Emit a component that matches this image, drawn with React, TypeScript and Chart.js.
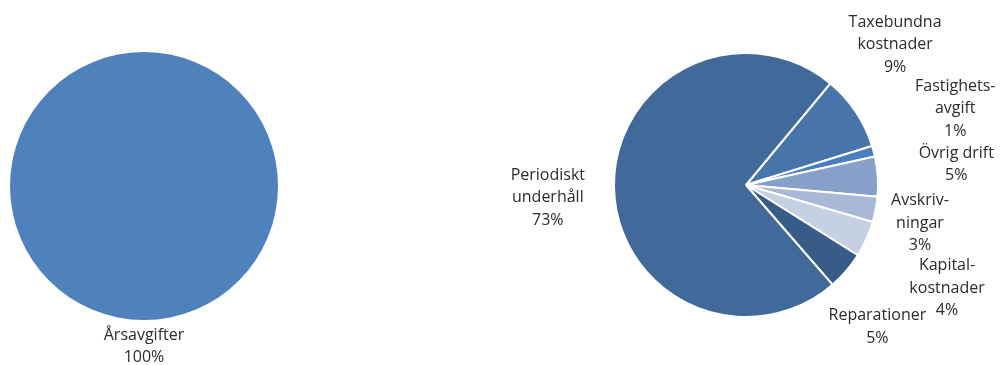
import React, { useEffect, useRef } from "react";
import { Chart, registerables } from "chart.js";

Chart.register(...registerables);

// ---- Data ----
const leftCategories = ["Årsavgifter"];
const leftValues = [100];
const leftPercentLabels = ["100%"];

const rightCategories = [
  "Taxebundna\nkostnader",
  "Fastighets-\navgift",
  "Övrig drift",
  "Avskriv-\nningar",
  "Kapital-\nkostnader",
  "Reparationer",
  "Periodiskt\nunderhåll",
];
const rightValues = [9.2, 1.3, 4.9, 3.1, 4.4, 4.7, 72.4];
const rightPercentLabels = ["9%", "1%", "5%", "3%", "4%", "5%", "73%"];

// ---- Styles / layout (kept apart from data) ----
const leftColors = ["#4F81BD"];
const rightColors = ["#4775AB", "#4A7EBF", "#86A0CA", "#A9B8D6", "#C5D0E3", "#375C88", "#416A9A"];

const leftNudges: [number, number][] = [[0, -4]];
const rightNudges: [number, number][] = [
  [-6, -44],
  [35, -32],
  [33, -10],
  [8, 6],
  [39, 32],
  [-12, 36],
  [-21, 11],
];

type LabelCfg = {
  percents: string[];
  nudges: [number, number][];
  gap: number;
  lineHeight: number;
  font: string;
  color: string;
};

function makeLabelPlugin(cfg: LabelCfg) {
  return {
    id: "sliceLabels",
    afterDatasetsDraw(chart: any) {
      const ctx = chart.ctx as CanvasRenderingContext2D;
      const meta = chart.getDatasetMeta(0);
      const cats = chart.data.labels as string[];
      ctx.save();
      ctx.font = cfg.font;
      ctx.fillStyle = cfg.color;
      ctx.textAlign = "center";
      ctx.textBaseline = "middle";
      meta.data.forEach((arc: any, i: number) => {
        const p = arc.getProps(["x", "y", "startAngle", "endAngle", "outerRadius"], true);
        const mid = (p.startAngle + p.endAngle) / 2;
        const lines = [...String(cats[i]).split("\n"), cfg.percents[i]];
        const w = Math.max(...lines.map((l) => ctx.measureText(l).width));
        const h = lines.length * cfg.lineHeight;
        const R = p.outerRadius + cfg.gap;
        const ax = p.x + R * Math.cos(mid);
        const ay = p.y + R * Math.sin(mid);
        const n = cfg.nudges[i] || [0, 0];
        const cx = ax + (Math.cos(mid) * w) / 2 + n[0];
        const cy = ay + (Math.sin(mid) * h) / 2 + n[1];
        lines.forEach((l, j) => {
          ctx.fillText(l, cx, cy - h / 2 + cfg.lineHeight * (j + 0.5));
        });
      });
      ctx.restore();
    },
  };
}

type PieProps = {
  labels: string[];
  values: number[];
  colors: string[];
  percents: string[];
  nudges: [number, number][];
  rotation: number;
  borderWidth: number;
  padding: { left: number; right: number; top: number; bottom: number };
  box: { left: number; top: number; width: number; height: number };
};

function PieChart(props: PieProps) {
  const ref = useRef<HTMLCanvasElement | null>(null);
  useEffect(() => {
    if (!ref.current) return;
    const chart = new Chart(ref.current, {
      type: "pie",
      data: {
        labels: props.labels,
        datasets: [
          {
            data: props.values,
            backgroundColor: props.colors,
            borderColor: "#FFFFFF",
            borderWidth: props.borderWidth,
          },
        ],
      },
      options: {
        animation: false,
        responsive: true,
        maintainAspectRatio: false,
        rotation: props.rotation,
        layout: { padding: props.padding },
        plugins: {
          legend: { display: false },
          tooltip: { enabled: false },
        },
      },
      plugins: [
        makeLabelPlugin({
          percents: props.percents,
          nudges: props.nudges,
          gap: 8,
          lineHeight: 22.5,
          font: '16px "Open Sans", sans-serif',
          color: "#2B2B2B",
        }),
      ],
    });
    return () => chart.destroy();
  }, []);
  const b = props.box;
  return (
    <div style={{ position: "absolute", left: b.left, top: b.top, width: b.width, height: b.height }}>
      <canvas ref={ref} />
    </div>
  );
}

export default function App() {
  return (
    <div style={{ position: "fixed", left: 0, top: 0, width: 1008, height: 365, background: "#FFFFFF" }}>
      <PieChart
        labels={leftCategories}
        values={leftValues}
        colors={leftColors}
        percents={leftPercentLabels}
        nudges={leftNudges}
        rotation={0}
        borderWidth={0}
        padding={{ left: 10, right: 10, top: 52, bottom: 45 }}
        box={{ left: 0, top: 0, width: 288, height: 365 }}
      />
      <PieChart
        labels={rightCategories}
        values={rightValues}
        colors={rightColors}
        percents={rightPercentLabels}
        nudges={rightNudges}
        rotation={39.7}
        borderWidth={2}
        padding={{ left: 213, right: 129, top: 52, bottom: 47 }}
        box={{ left: 400, top: 0, width: 608, height: 365 }}
      />
    </div>
  );
}
